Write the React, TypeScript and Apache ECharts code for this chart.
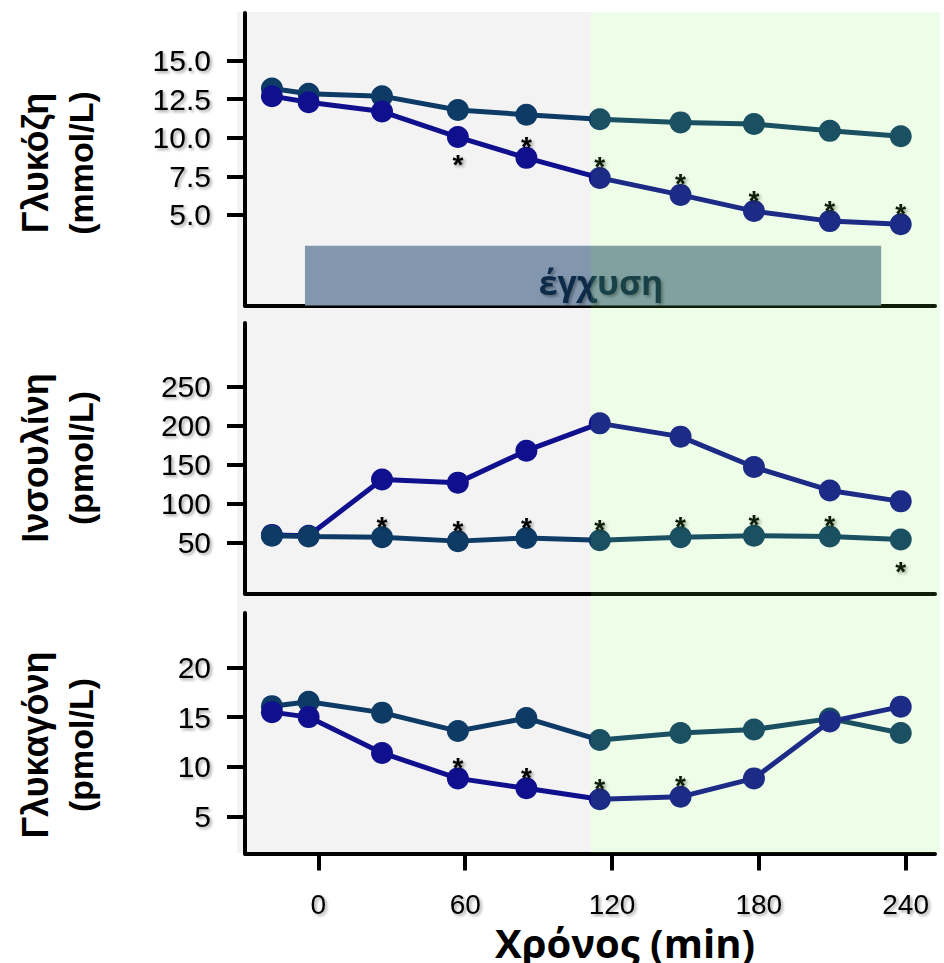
import React, { useEffect, useRef } from 'react';
import * as echarts from 'echarts';

// ---- data ----
const times = [-19, -4, 26, 57, 85, 115, 148, 178, 209, 238];
const xTickValues = [0, 60, 120, 180, 240];
const glucoseControl = [13.2, 12.85, 12.7, 11.8, 11.5, 11.2, 11.0, 10.9, 10.45, 10.1];
const glucoseInfusion = [12.7, 12.3, 11.7, 10.05, 8.7, 7.4, 6.3, 5.25, 4.6, 4.4];
const insulinControl = [59, 58, 57, 52, 56, 53, 57, 59, 58, 54];
const insulinInfusion = [60, 59, 131, 127, 168, 203, 186, 147, 117, 103];
const glucagonControl = [16.1, 16.55, 15.45, 13.6, 14.9, 12.7, 13.4, 13.75, 14.85, 13.4];
const glucagonInfusion = [15.5, 15.0, 11.4, 8.85, 7.85, 6.75, 7.0, 8.85, 14.55, 16.05];
const glucoseTicks = [5, 7.5, 10, 12.5, 15];
const insulinTicks = [50, 100, 150, 200, 250];
const glucagonTicks = [5, 10, 15, 20];
// significance markers: 'up' = above the point, 'down' = below it
const glucoseInfusionStars = ['', '', '', 'down', 'up', 'up', 'up', 'up', 'up', 'up'];
const insulinControlStars = ['', '', 'up', 'up', 'up', 'up', 'up', 'up', 'up', 'down'];
const glucagonInfusionStars = ['', '', '', 'up', 'up', 'up', 'up', '', '', ''];
const infusionPeriod = [-5.5, 230];
const infusionTop = 3.0;
const panelTitles = [
  ['Γλυκόζη', '(mmol/L)'],
  ['Ινσουλίνη', '(pmol/L)'],
  ['Γλυκαγόνη', '(pmol/L)'],
];
const xAxisTitle = 'Χρόνος (min)';
const infusionLabel = 'έγχυση';

// ---- styling ----
const FONT = '"Liberation Sans", Arial, sans-serif';
const FONT_TITLE = '"Open Sans", "Noto Sans", sans-serif';
const CONTROL_COLOR = '#0e3b66';
const INFUSION_COLOR = '#10108f';
const SHADOW = {
  textShadowColor: 'rgba(0,0,0,0.35)',
  textShadowBlur: 3,
  textShadowOffsetX: 2,
  textShadowOffsetY: 2,
};

const X_MIN = -30;
const X_MAX = 252;
const GRID_LEFT = 245;
const GRID_WIDTH = 690;
const panels = [
  { top: 13, height: 292.5, min: -0.87, max: 18.09, ticks: glucoseTicks, fmt: (v: number) => v.toFixed(1), titleY: 163, down: 27 },
  { top: 323, height: 270.3, min: -14.9, max: 331.7, ticks: insulinTicks, fmt: (v: number) => String(v), titleY: 458, down: 32 },
  { top: 613, height: 240.5, min: 1.31, max: 25.45, ticks: glucagonTicks, fmt: (v: number) => String(v), titleY: 745, down: 27 },
];

function lineSeries(
  gridIndex: number,
  name: string,
  values: number[],
  color: string,
  stars: string[] | null
): any {
  const downOffset = panels[gridIndex].down;
  return {
    type: 'line',
    name,
    xAxisIndex: gridIndex,
    yAxisIndex: gridIndex,
    symbol: 'circle',
    symbolSize: 22,
    lineStyle: { color, width: 5 },
    itemStyle: { color },
    emphasis: { disabled: true },
    data: times.map((t, i) => {
      const item: any = { value: [t, values[i]] };
      if (stars && stars[i]) {
        item.label = {
          show: true,
          formatter: '*',
          position: 'inside',
          offset: [0, stars[i] === 'up' ? -11 : downOffset],
          fontSize: 28,
          fontWeight: 'bold',
          fontFamily: FONT,
          color: '#000',
          ...SHADOW,
        };
      }
      return item;
    }),
  };
}

export default function App() {
  const ref = useRef<HTMLDivElement>(null);

  useEffect(() => {
    if (!ref.current) return;
    const chart = echarts.init(ref.current, null, { renderer: 'svg' });

    const grid = panels.map((p) => ({
      left: GRID_LEFT,
      top: p.top,
      width: GRID_WIDTH,
      height: p.height,
      containLabel: false,
    }));

    const xAxis = panels.map((p, i) => ({
      type: 'value',
      gridIndex: i,
      min: X_MIN,
      max: X_MAX,
      axisLine: { show: true, onZero: false, lineStyle: { color: '#000', width: 4 } },
      axisTick: {
        show: i === 2,
        customValues: xTickValues,
        length: 17,
        lineStyle: { color: '#000', width: 4 },
      },
      axisLabel: {
        show: i === 2,
        customValues: xTickValues,
        margin: 37,
        fontSize: 28,
        fontFamily: FONT,
        color: '#000',
        ...SHADOW,
      },
      splitLine: { show: false },
    }));

    const yAxis = panels.map((p, i) => ({
      type: 'value',
      gridIndex: i,
      min: p.min,
      max: p.max,
      axisLine: { show: true, onZero: false, lineStyle: { color: '#000', width: 4 } },
      axisTick: {
        show: true,
        customValues: p.ticks,
        length: 18,
        lineStyle: { color: '#000', width: 4 },
      },
      axisLabel: {
        show: true,
        customValues: p.ticks,
        formatter: (v: number) => p.fmt(v),
        margin: 34,
        fontSize: 30,
        fontFamily: FONT,
        color: '#000',
        ...SHADOW,
      },
      splitLine: { show: false },
    }));

    const glucoseCtrl = lineSeries(0, 'control', glucoseControl, CONTROL_COLOR, null);
    glucoseCtrl.markArea = {
      silent: true,
      itemStyle: { color: '#8297ae' },
      label: {
        show: true,
        position: 'inside',
        formatter: infusionLabel,
        offset: [8, 6],
        fontSize: 34,
        fontWeight: 'bold',
        fontFamily: FONT_TITLE,
        color: '#102a48',
        ...SHADOW,
      },
      data: [[
        { xAxis: infusionPeriod[0], yAxis: panels[0].min },
        { xAxis: infusionPeriod[1], yAxis: infusionTop },
      ]],
    };

    const series = [
      glucoseCtrl,
      lineSeries(0, 'infusion', glucoseInfusion, INFUSION_COLOR, glucoseInfusionStars),
      lineSeries(1, 'infusion', insulinInfusion, INFUSION_COLOR, null),
      lineSeries(1, 'control', insulinControl, CONTROL_COLOR, insulinControlStars),
      lineSeries(2, 'control', glucagonControl, CONTROL_COLOR, null),
      lineSeries(2, 'infusion', glucagonInfusion, INFUSION_COLOR, glucagonInfusionStars),
    ];

    const titleGraphics: any[] = [];
    panels.forEach((p, i) => {
      const [l1, l2] = panelTitles[i];
      [
        { text: l1, x: 35, size: 36 },
        { text: l2, x: 81, size: 34 },
      ].forEach((ln) => {
        titleGraphics.push({
          type: 'text',
          x: ln.x,
          y: p.titleY,
          rotation: Math.PI / 2,
          z: 10,
          style: {
            text: ln.text,
            fontSize: ln.size,
            fontWeight: 'bold',
            fontFamily: FONT,
            fill: '#000',
            align: 'center',
            verticalAlign: 'middle',
            shadowColor: 'rgba(0,0,0,0.35)',
            shadowBlur: 3,
            shadowOffsetX: 2,
            shadowOffsetY: -2,
          },
        });
      });
    });

    chart.setOption({
      animation: false,
      backgroundColor: '#ffffff',
      grid,
      xAxis,
      yAxis,
      series,
      graphic: [
        {
          type: 'rect',
          z: -10,
          silent: true,
          shape: { x: 237, y: 12, width: 354, height: 841 },
          style: { fill: '#f3f3f3' },
        },
        {
          type: 'rect',
          z: 100,
          silent: true,
          shape: { x: 591, y: 12, width: 349, height: 841 },
          style: { fill: 'rgba(113,238,63,0.12)' },
        },
        ...titleGraphics,
        {
          type: 'text',
          x: 625,
          y: 942,
          z: 10,
          style: {
            text: xAxisTitle,
            fontSize: 40,
            fontWeight: 'bold',
            fontFamily: FONT_TITLE,
            fill: '#000',
            align: 'center',
            verticalAlign: 'middle',
            shadowColor: 'rgba(0,0,0,0.35)',
            shadowBlur: 3,
            shadowOffsetX: 2,
            shadowOffsetY: 2,
          },
        },
      ],
    });

    return () => chart.dispose();
  }, []);

  return (
    <div
      ref={ref}
      style={{ position: 'absolute', left: 0, top: 0, width: 944, height: 963 }}
    />
  );
}
